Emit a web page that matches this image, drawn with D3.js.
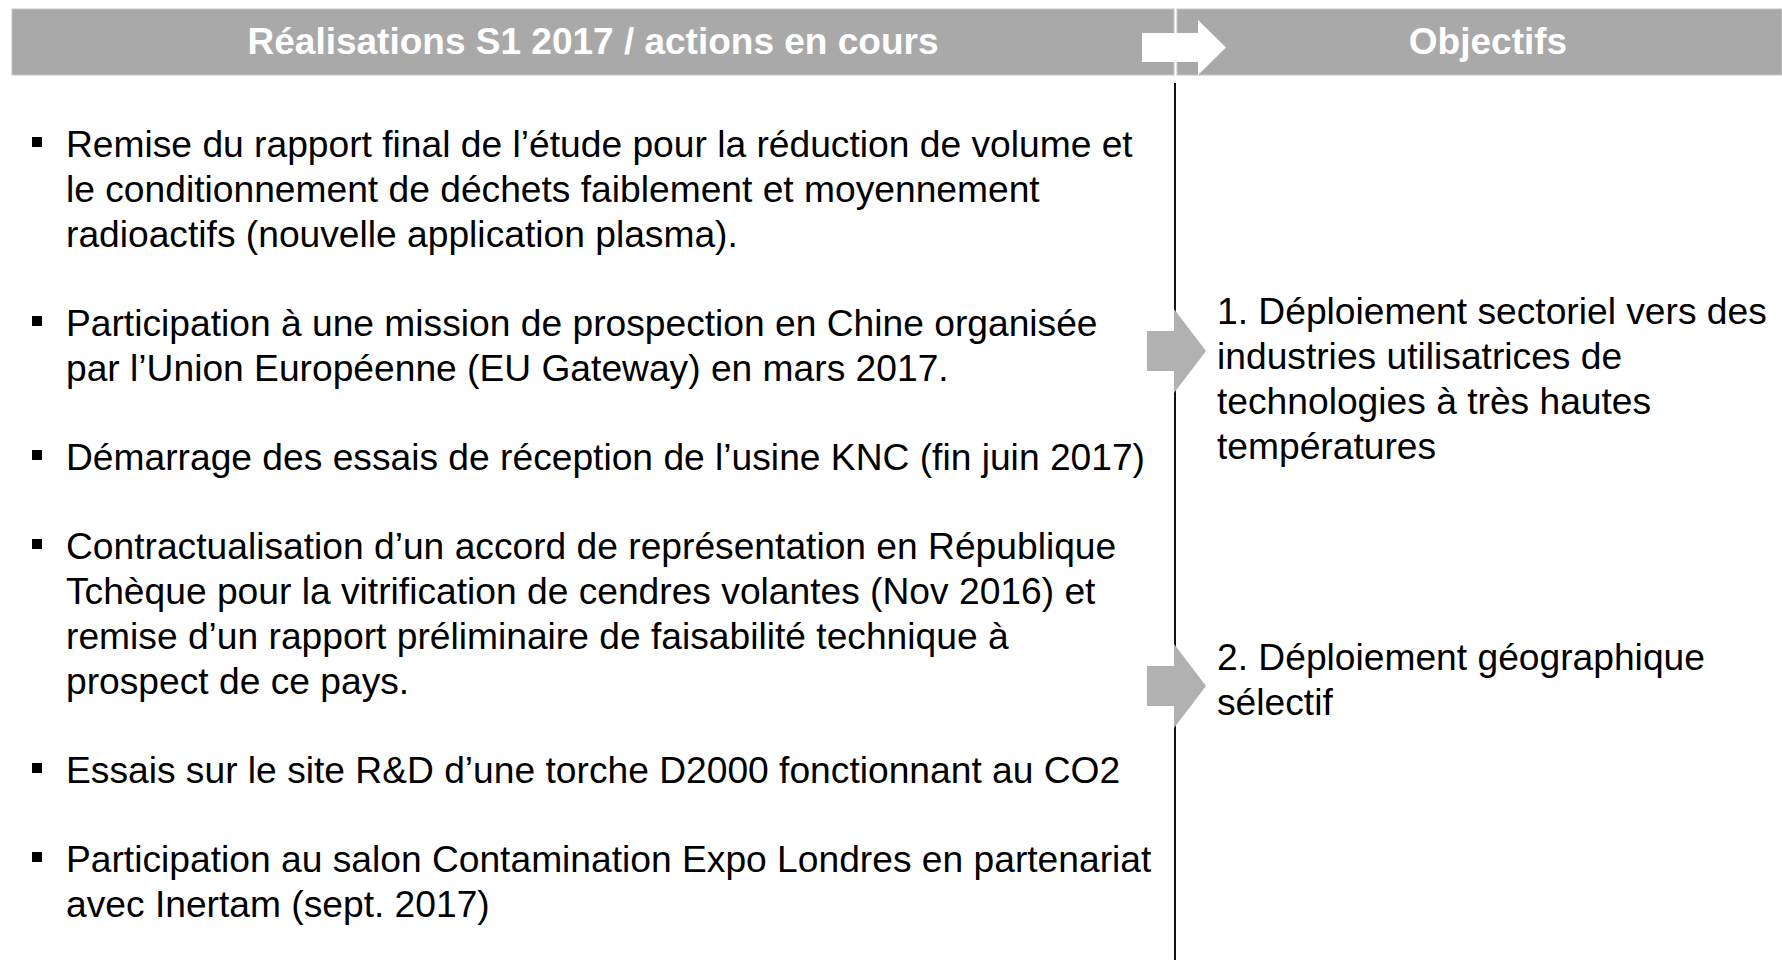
<!DOCTYPE html>
<html>
<head>
<meta charset="utf-8">
<script src="https://cdn.jsdelivr.net/npm/d3@7"></script>
<style>
  html, body { margin: 0; padding: 0; background: #ffffff; }
  svg { display: block; }
</style>
</head>
<body>
<script>
// ---- Content (data) ----
const headerLeft = "Réalisations S1 2017 / actions en cours";
const headerRight = "Objectifs";

const achievements = [
  ["Remise du rapport final de l’étude pour la réduction de volume et",
   "le conditionnement de déchets faiblement et moyennement",
   "radioactifs (nouvelle application plasma)."],
  ["Participation à une mission de prospection en Chine organisée",
   "par l’Union Européenne (EU Gateway) en mars 2017."],
  ["Démarrage des essais de réception de l’usine KNC (fin juin 2017)"],
  ["Contractualisation d’un accord de représentation en République",
   "Tchèque pour la vitrification de cendres volantes (Nov 2016) et",
   "remise d’un rapport préliminaire de faisabilité technique à",
   "prospect de ce pays."],
  ["Essais sur le site R&D d’une torche D2000 fonctionnant au CO2"],
  ["Participation au salon Contamination Expo Londres en partenariat",
   "avec Inertam (sept. 2017)"]
];

const objectives = [
  ["1. Déploiement sectoriel vers des",
   "industries utilisatrices de",
   "technologies à très hautes",
   "températures"],
  ["2. Déploiement géographique",
   "sélectif"]
];

// ---- Layout ----
const W = 1782, H = 960;
const headerColor = "#a9a9a9";
const arrowColor = "#b1b1b1";
const font = "'Liberation Sans', Arial, sans-serif";
const fontSize = 37.2;
const lineH = 45;
const paraGap = 44;

const svg = d3.select("body").append("svg")
  .attr("width", W).attr("height", H);

const headers = [
  {label: headerLeft, x0: 12, x1: 1174, tx: 593},
  {label: headerRight, x0: 1177, x1: 1782, tx: 1488}
];
const hy0 = 9, hy1 = 75;

svg.selectAll("rect.hdr").data(headers).join("rect")
  .attr("class", "hdr")
  .attr("x", d => d.x0).attr("y", hy0)
  .attr("width", d => d.x1 - d.x0).attr("height", hy1 - hy0)
  .attr("fill", headerColor)
  .attr("stroke", "#c4c4c4").attr("stroke-width", 1);

// White arrow in header
const line = d3.line();
svg.append("path")
  .attr("d", line([[1142, 33], [1198, 33], [1198, 20], [1226, 47.5], [1198, 75], [1198, 62], [1142, 62]]) + "Z")
  .attr("fill", "#ffffff");

svg.selectAll("text.hdr").data(headers).join("text")
  .attr("class", "hdr")
  .attr("x", d => d.tx)
  .attr("y", 54)
  .attr("text-anchor", "middle")
  .attr("font-family", font)
  .attr("font-weight", "bold")
  .attr("font-size", 37)
  .attr("fill", "#ffffff")
  .text(d => d.label);

// Vertical divider
svg.append("line")
  .attr("x1", 1175).attr("x2", 1175)
  .attr("y1", 83).attr("y2", H)
  .attr("stroke", "#111").attr("stroke-width", 2);

// Left bullets
let y = 157;
const leftG = svg.append("g");
achievements.forEach(lines => {
  leftG.append("rect")
    .attr("x", 32).attr("y", y - 20)
    .attr("width", 10).attr("height", 10)
    .attr("fill", "#000");
  lines.forEach((t, i) => {
    leftG.append("text")
      .attr("x", 66).attr("y", y + i * lineH)
      .attr("font-family", font).attr("font-size", fontSize)
      .attr("fill", "#000")
      .text(t);
  });
  y += lines.length * lineH + paraGap;
});

// Right objectives with grey arrows
const objStart = [324, 670];
const arrowCenter = [351, 686];
objectives.forEach((lines, k) => {
  const cy = arrowCenter[k];
  svg.append("path")
    .attr("d", line([[1147, cy - 20], [1174, cy - 20], [1174, cy - 42], [1206, cy], [1174, cy + 42], [1174, cy + 20], [1147, cy + 20]]) + "Z")
    .attr("fill", arrowColor);
  lines.forEach((t, i) => {
    svg.append("text")
      .attr("x", 1217).attr("y", objStart[k] + i * lineH)
      .attr("font-family", font).attr("font-size", fontSize)
      .attr("fill", "#000")
      .text(t);
  });
});
</script>
</body>
</html>
